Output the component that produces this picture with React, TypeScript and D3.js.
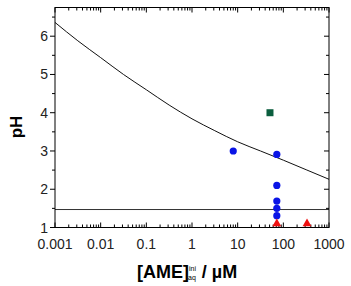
import { useEffect, useRef } from 'react';
import * as d3 from 'd3';

// Calculated pH curve vs. initial aqueous AME concentration (µM)
const curveConc = [0.001, 0.00316, 0.01, 0.0316, 0.1, 0.316, 1, 3.16, 10, 31.6, 100, 316, 1000];
const curvePH = [6.36, 5.88, 5.44, 5.0, 4.6, 4.2, 3.84, 3.53, 3.24, 3.0, 2.76, 2.51, 2.26];

// Measured points
const blueConc = [8, 72, 72, 72, 72, 72];
const bluePH = [3.0, 2.91, 2.1, 1.69, 1.5, 1.31];
const redConc = [72, 330];
const redPH = [1.1, 1.1];
const greenConc = [51];
const greenPH = [4.0];

const refLinePH = 1.47;

const xTicks = [0.001, 0.01, 0.1, 1, 10, 100, 1000];
const xTickLabels = ['0.001', '0.01', '0.1', '1', '10', '100', '1000'];
const yTicks = [1, 2, 3, 4, 5, 6];

const App = () => {
  const svgRef = useRef<SVGSVGElement | null>(null);

  useEffect(() => {
    const svg = d3.select(svgRef.current);
    svg.selectAll('*').remove();
    const width = 351;
    const height = 286;
    const margin = { top: 7.5, right: 22, bottom: 58.5, left: 55 };
    const w = width - margin.left - margin.right;
    const h = height - margin.top - margin.bottom;
    const font = 'Liberation Sans, Arial, sans-serif';

    const x = d3.scaleLog().domain([0.001, 1000]).range([0, w]);
    const y = d3.scaleLinear().domain([1, 6.75]).range([h, 0]);

    const g = svg.append('g').attr('transform', `translate(${margin.left},${margin.top})`);

    // minor log ticks (2..9 within each decade)
    const minor: number[] = [];
    for (let e = -3; e < 3; e++) {
      for (let k = 2; k <= 9; k++) minor.push(k * Math.pow(10, e));
    }
    const yMinor = d3.range(1.5, 6.75, 1);

    // bottom + top ticks, pointing inward
    [h, 0].forEach(base => {
      const dir = base === h ? -1 : 1;
      g.selectAll(null).data(minor).enter().append('line')
        .attr('x1', d => x(d)).attr('x2', d => x(d))
        .attr('y1', base).attr('y2', base + dir * 3)
        .attr('stroke', '#000').attr('stroke-width', 1);
      g.selectAll(null).data(xTicks).enter().append('line')
        .attr('x1', d => x(d)).attr('x2', d => x(d))
        .attr('y1', base).attr('y2', base + dir * 5)
        .attr('stroke', '#000').attr('stroke-width', 1);
    });

    // left ticks outward, right ticks inward
    g.selectAll(null).data(yTicks).enter().append('line')
      .attr('x1', -5).attr('x2', 0).attr('y1', d => y(d)).attr('y2', d => y(d))
      .attr('stroke', '#000');
    g.selectAll(null).data(yMinor).enter().append('line')
      .attr('x1', -3).attr('x2', 0).attr('y1', d => y(d)).attr('y2', d => y(d))
      .attr('stroke', '#000');
    g.selectAll(null).data(yTicks).enter().append('line')
      .attr('x1', w - 5).attr('x2', w).attr('y1', d => y(d)).attr('y2', d => y(d))
      .attr('stroke', '#000');
    g.selectAll(null).data(yMinor).enter().append('line')
      .attr('x1', w - 3).attr('x2', w).attr('y1', d => y(d)).attr('y2', d => y(d))
      .attr('stroke', '#000');

    // tick labels
    g.selectAll(null).data(xTicks).enter().append('text')
      .attr('x', d => x(d)).attr('y', h + 21)
      .attr('text-anchor', 'middle')
      .attr('font-family', font).attr('font-size', 14).attr('fill', '#222')
      .text((_, i) => xTickLabels[i]);
    g.selectAll(null).data(yTicks).enter().append('text')
      .attr('x', -7).attr('y', d => y(d)).attr('dy', '0.36em')
      .attr('text-anchor', 'end')
      .attr('font-family', font).attr('font-size', 14).attr('fill', '#222')
      .text(d => d);

    // horizontal reference line
    g.append('line')
      .attr('x1', 0).attr('x2', w)
      .attr('y1', y(refLinePH)).attr('y2', y(refLinePH))
      .attr('stroke', '#333').attr('stroke-width', 1);

    // model curve
    const line = d3.line<number>()
      .x((_, i) => x(curveConc[i]))
      .y(d => y(d))
      .curve(d3.curveMonotoneX);
    g.append('path')
      .datum(curvePH)
      .attr('d', line)
      .attr('fill', 'none')
      .attr('stroke', '#111')
      .attr('stroke-width', 1);

    // data points
    g.selectAll(null).data(bluePH).enter().append('circle')
      .attr('cx', (_, i) => x(blueConc[i])).attr('cy', d => y(d))
      .attr('r', 3.6).attr('fill', '#0a14e6');
    const tri = d3.symbol().type(d3.symbolTriangle).size(34);
    g.selectAll(null).data(redPH).enter().append('path')
      .attr('d', tri)
      .attr('transform', (d, i) => `translate(${x(redConc[i])},${y(d)})`)
      .attr('fill', '#f01010');
    g.selectAll(null).data(greenPH).enter().append('rect')
      .attr('x', (_, i) => x(greenConc[i]) - 3.5).attr('y', d => y(d) - 3.5)
      .attr('width', 7).attr('height', 7)
      .attr('fill', '#0b5e3e');

    // frame
    g.append('rect')
      .attr('width', w).attr('height', h)
      .attr('fill', 'none').attr('stroke', '#000').attr('stroke-width', 1);

    // axis titles
    svg.append('text')
      .attr('transform', `translate(22,127) rotate(-90)`)
      .attr('text-anchor', 'middle')
      .attr('font-family', font).attr('font-size', 17).attr('font-weight', 'bold')
      .text('pH');

    const xt = svg.append('text')
      .attr('x', 137).attr('y', 278)
      .attr('font-family', font).attr('font-size', 18).attr('font-weight', 'bold');
    xt.append('tspan').text('[AME]');
    xt.append('tspan').attr('font-size', 7).attr('font-weight', 'normal').attr('dy', -7).text('ini');
    xt.append('tspan').attr('font-size', 7).attr('font-weight', 'normal').attr('dx', -8).attr('dy', 9).text('aq');
    xt.append('tspan').attr('dy', -2).attr('dx', 6).text('/ µM');
  }, []);

  return (
    <svg
      ref={svgRef}
      width={351}
      height={286}
      style={{ position: 'absolute', left: 0, top: 0, background: '#fff' }}
    />
  );
};

export default App;
